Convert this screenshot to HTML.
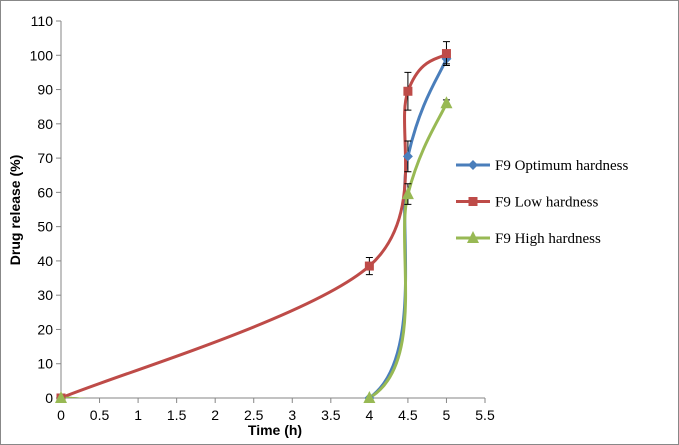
<!DOCTYPE html>
<html><head><meta charset="utf-8"><style>
body{margin:0;background:#fff}
svg{display:block}
text{font-family:"Liberation Sans",sans-serif;font-size:14px;fill:#000}
</style></head><body>
<svg id="chart" width="679" height="445" xmlns="http://www.w3.org/2000/svg">
<rect x="0.5" y="0.5" width="678" height="444" fill="#fff" stroke="#888"/>
<defs><clipPath id="pc"><rect x="61" y="10" width="430" height="388"/></clipPath></defs>
<g id="axes"></g>
<g id="series" clip-path="url(#pc)"></g>
<g id="marks"></g>
<text x="0" y="0" transform="translate(20,210) rotate(-90)" text-anchor="middle" font-weight="bold" font-size="13">Drug release (%)</text>
<text x="275" y="435" text-anchor="middle" font-weight="bold" font-size="13">Time (h)</text>
<g id="legend"></g>
</svg>
<script>
const xTicks=[0,0.5,1,1.5,2,2.5,3,3.5,4,4.5,5,5.5];
const yTicks=[0,10,20,30,40,50,60,70,80,90,100,110];
const times=[0,4,4.5,5];
const optimum=[0,0,70.5,99];
const low=[0,38.5,89.5,100.5];
const high=[0,0,59.5,86];
const optimumErr=[0,0,4.5,1.5];
const lowErr=[0,2.5,5.5,3.5];
const highErr=[0,0,3,1];
const seriesNames=["F9 Optimum hardness","F9 Low hardness","F9 High hardness"];
const NS="http://www.w3.org/2000/svg";
const X=v=>61+v*(424/5.5);
const Y=v=>398-v*(377/110);
function mk(tag,attrs,parent){const e=document.createElementNS(NS,tag);for(const k in attrs)e.setAttribute(k,attrs[k]);parent.appendChild(e);return e;}
const axes=document.getElementById('axes');
let a=mk('line',{x1:61,y1:21,x2:61,y2:398,stroke:'#868686'},axes);


a=mk('line',{x1:61,y1:398,x2:485,y2:398,stroke:'#868686'},axes);


yTicks.forEach(t=>{
 mk('line',{x1:56,y1:Y(t),x2:61,y2:Y(t),stroke:'#868686'},axes);
 const tx=mk('text',{x:53,y:Y(t)+5,'text-anchor':'end'},axes);tx.textContent=t;
 
 
});
xTicks.forEach(t=>{
 mk('line',{x1:X(t),y1:398,x2:X(t),y2:403,stroke:'#868686'},axes);
 const tx=mk('text',{x:X(t),y:420,'text-anchor':'middle'},axes);tx.textContent=t;
 
 
});
function smooth(pts){
 let d=`M${pts[0][0]},${pts[0][1]}`;
 const s=1/6;
 for(let i=0;i<pts.length-1;i++){
  const p0=pts[i-1]||pts[i],p1=pts[i],p2=pts[i+1],p3=pts[i+2]||p2;
  d+=` C${p1[0]+(p2[0]-p0[0])*s},${p1[1]+(p2[1]-p0[1])*s} ${p2[0]-(p3[0]-p1[0])*s},${p2[1]-(p3[1]-p1[1])*s} ${p2[0]},${p2[1]}`;
 }
 return d;
}
const sg=document.getElementById('series'),mg=document.getElementById('marks'),lg=document.getElementById('legend');
const defs=[[optimum,optimumErr,'#4a7ebb','diamond','series-optimum'],[low,lowErr,'#be4b48','square','series-low'],[high,highErr,'#98b954','triangle','series-high']];
function marker(type,x,y,c,parent){
 let m;
 if(type==='diamond')m=mk('path',{d:`M${x},${y-5}L${x+5},${y}L${x},${y+5}L${x-5},${y}Z`,fill:c},parent);
 else if(type==='square')m=mk('rect',{x:x-4.5,y:y-4.5,width:9,height:9,fill:c},parent);
 else m=mk('path',{d:`M${x},${y-7}L${x+6},${y+5}L${x-6},${y+5}Z`,fill:c},parent);
 return m;
}
defs.forEach(([vals,errs,c,type,name],si)=>{
 const pts=times.map((t,i)=>[X(t),Y(vals[i])]);
 const p=mk('path',{d:smooth(pts),fill:'none',stroke:c,'stroke-width':3},sg);
 
 
 times.forEach((t,i)=>{
  const x=X(t),y=Y(vals[i]);
  if(errs[i]>0){
   const y1=Y(vals[i]+errs[i]),y2=Y(vals[i]-errs[i]);
   const eb=mk('path',{d:`M${x},${y1}V${y2}M${x-3.5},${y1}H${x+3.5}M${x-3.5},${y2}H${x+3.5}`,stroke:'#000','stroke-width':1,fill:'none'},mg);
   
   
  }
  const m=marker(type,x,y,c,mg);
  
  
 });
 const ly=165+si*36.5;
 const ll=mk('line',{x1:456,y1:ly,x2:490,y2:ly,stroke:c,'stroke-width':3},lg);
 
 
 const lm=marker(type,473,ly,c,lg);
 
 
 const lt=mk('text',{x:495,y:ly+5,style:'font-family:"Liberation Serif",serif;font-size:15px'},lg);
 lt.textContent=seriesNames[si];
 
 
});
</script>
</body></html>
